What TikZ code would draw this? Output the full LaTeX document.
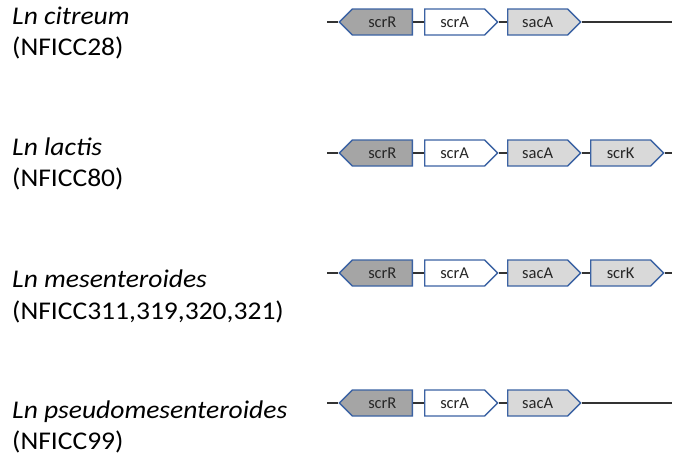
\documentclass[tikz,border=0pt]{standalone}
\usepackage{fontspec}
\newfontfamily\labfont[FakeStretch=1.08]{Carlito}
\newfontfamily\genefont{Carlito}
\usetikzlibrary{shapes.symbols}
\definecolor{geneedge}{HTML}{3B62A3}
\definecolor{darkfill}{HTML}{A5A5A5}
\definecolor{lightfill}{HTML}{D9D9D9}
\definecolor{genetext}{HTML}{262626}
\begin{document}
\begin{tikzpicture}[x=1pt,y=-1pt,
  gene/.style={signal, draw=geneedge, line width=1.3pt, minimum height=26pt,
    minimum width=73pt, signal pointer angle=90, inner sep=0pt,
    font=\genefont\fontsize{16.5}{18}\selectfont, text=genetext},
  fwd/.style={gene, signal to=east, signal from=nowhere},
  rev/.style={gene, signal to=west, signal from=nowhere},
  dk/.style={fill=darkfill}, lt/.style={fill=lightfill}, wt/.style={fill=white},
  spname/.style={anchor=base west, inner sep=0pt, font=\labfont\fontsize{25.5}{30}\selectfont\itshape},
  strain/.style={anchor=base west, inner sep=0pt, font=\labfont\fontsize{25.5}{30}\selectfont},
  backbone/.style={draw=black!80, line width=1.2pt}]
\useasboundingbox (0,0) rectangle (678,456);

% Row 1
\node[spname] (sp1) at (12,24) {Ln citreum};
\node[strain] (st1) at (12,55) {(NFICC28)};
\coordinate (L1) at (327,22);
\node[rev,dk,anchor=east] (scrR1) at (413,22) {scrR};
\node[fwd,wt,anchor=west] (scrA1) at (424,22) {scrA};
\node[fwd,lt,anchor=west] (sacA1) at (507,22) {sacA};
\coordinate (R1) at (672,22);
\draw[backbone] (L1) -- (scrR1.west) (scrR1.east) -- (scrA1.west)
  (scrA1.east) -- (sacA1.west) (sacA1.east) -- (R1);

% Row 2
\node[spname] (sp2) at (12,155) {Ln lactis};
\node[strain] (st2) at (12,186) {(NFICC80)};
\coordinate (L2) at (327,153);
\node[rev,dk,anchor=east] (scrR2) at (413,153) {scrR};
\node[fwd,wt,anchor=west] (scrA2) at (424,153) {scrA};
\node[fwd,lt,anchor=west] (sacA2) at (507,153) {sacA};
\node[fwd,lt,anchor=west] (scrK2) at (590,153) {scrK};
\coordinate (R2) at (672,153);
\draw[backbone] (L2) -- (scrR2.west) (scrR2.east) -- (scrA2.west)
  (scrA2.east) -- (sacA2.west) (sacA2.east) -- (scrK2.west) (scrK2.east) -- (R2);

% Row 3
\node[spname] (sp3) at (12,287) {Ln mesenteroides};
\node[strain] (st3) at (12,319) {(NFICC311,319,320,321)};
\coordinate (L3) at (327,273);
\node[rev,dk,anchor=east] (scrR3) at (413,273) {scrR};
\node[fwd,wt,anchor=west] (scrA3) at (424,273) {scrA};
\node[fwd,lt,anchor=west] (sacA3) at (507,273) {sacA};
\node[fwd,lt,anchor=west] (scrK3) at (590,273) {scrK};
\coordinate (R3) at (672,273);
\draw[backbone] (L3) -- (scrR3.west) (scrR3.east) -- (scrA3.west)
  (scrA3.east) -- (sacA3.west) (sacA3.east) -- (scrK3.west) (scrK3.east) -- (R3);

% Row 4
\node[spname] (sp4) at (12,418) {Ln pseudomesenteroides};
\node[strain] (st4) at (12,449) {(NFICC99)};
\coordinate (L4) at (327,403);
\node[rev,dk,anchor=east] (scrR4) at (413,403) {scrR};
\node[fwd,wt,anchor=west] (scrA4) at (424,403) {scrA};
\node[fwd,lt,anchor=west] (sacA4) at (507,403) {sacA};
\coordinate (R4) at (672,403);
\draw[backbone] (L4) -- (scrR4.west) (scrR4.east) -- (scrA4.west)
  (scrA4.east) -- (sacA4.west) (sacA4.east) -- (R4);
\end{tikzpicture}
\end{document}
